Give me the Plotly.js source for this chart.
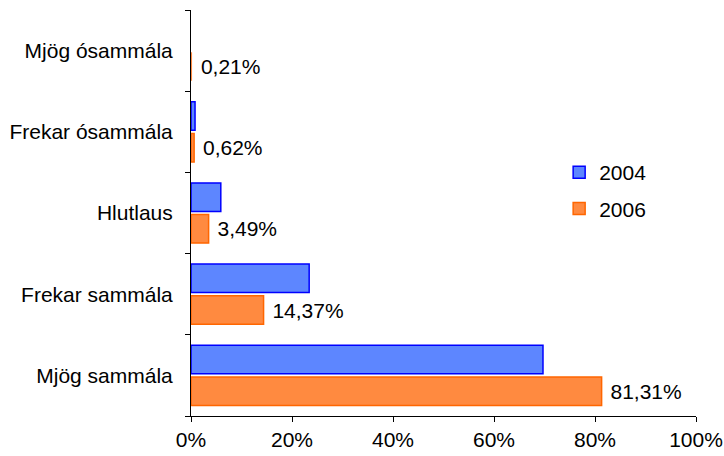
<!DOCTYPE html>
<html>
<head>
<meta charset="utf-8">
<script src="https://cdn.plot.ly/plotly-3.0.1.min.js"></script>
<style>html,body{margin:0;padding:0;background:#fff;}#chart{width:724px;height:456px;}</style>
</head>
<body>
<div id="chart"></div>
<script>
// Categories listed bottom to top
const categories = ["Mjög sammála", "Frekar sammála", "Hlutlaus", "Frekar ósammála", "Mjög ósammála"];
const values2004 = [69.7, 23.4, 5.9, 0.8, 0];
const values2006 = [81.31, 14.37, 3.49, 0.62, 0.21];
const seriesNames = ["2004", "2006"];
const xTicks = [0, 20, 40, 60, 80, 100];
const xTickLabels = ["0%", "20%", "40%", "60%", "80%", "100%"];

const FONT = "Arial, 'Liberation Sans', sans-serif";
const FS = 21;
const lineW = vals => vals.map(v => (v < 0.5 ? 0 : 1.5));

const traces = [
  {
    type: "bar", orientation: "h", name: seriesNames[1], legendgroup: "b", legendrank: 2,
    y: categories, x: values2006,
    marker: {color: "#ff8a40", line: {color: "#ff6600", width: lineW(values2006)}},
    texttemplate: " %{x:.2f}%", textposition: "outside",
    textfont: {family: FONT, size: FS, color: "#000"},
    cliponaxis: false, hoverinfo: "skip"
  },
  {
    type: "bar", orientation: "h", name: seriesNames[0], legendgroup: "a", legendrank: 1,
    y: categories, x: values2004,
    marker: {color: "#5d86ff", line: {color: "#0000ff", width: lineW(values2004)}},
    hoverinfo: "skip"
  }
];

const layout = {
  width: 724, height: 456,
  margin: {l: 191, r: 28, t: 10, b: 40},
  paper_bgcolor: "#fff", plot_bgcolor: "#fff",
  font: {family: FONT, size: FS, color: "#000"},
  separators: ",.",
  barmode: "group", bargap: 0.22, bargroupgap: 0.1,
  showlegend: true,
  legend: {x: 0.729, xanchor: "left", y: 0.65, yanchor: "top",
           traceorder: "grouped", tracegroupgap: 6,
           font: {family: FONT, size: FS, color: "#000"}, bgcolor: "rgba(0,0,0,0)"},
  xaxis: {
    range: [0, 100], tickvals: xTicks, ticktext: xTickLabels,
    showgrid: false, zeroline: false, showline: true, linecolor: "#000", linewidth: 1,
    ticks: "outside", ticklen: 5, tickcolor: "#000",
    tickfont: {family: FONT, size: FS, color: "#000"}, fixedrange: true
  },
  yaxis: {
    type: "category", categoryorder: "array", categoryarray: categories,
    showgrid: false, zeroline: false, showline: true, linecolor: "#000", linewidth: 1,
    ticks: "outside", ticklen: 5, tickcolor: "#000", tickson: "boundaries",
    ticklabelstandoff: 13,
    tickfont: {family: FONT, size: FS, color: "#000"}, fixedrange: true
  }
};

Plotly.newPlot("chart", traces, layout, {displayModeBar: false, staticPlot: true});
</script>
</body>
</html>
